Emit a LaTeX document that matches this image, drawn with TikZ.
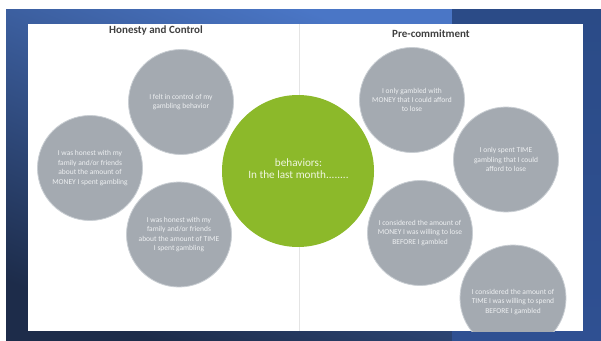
\documentclass[tikz,border=0pt]{standalone}
\usepackage{fontspec}
\setmainfont{Carlito}
\definecolor{bgtop}{HTML}{4A76C6}
\definecolor{bgbottom}{HTML}{1D2C4A}
\definecolor{paneltop}{HTML}{2B4B87}
\definecolor{panelmid}{HTML}{3A61AA}
\definecolor{panelbottom}{HTML}{2F5092}
\definecolor{bubblegray}{HTML}{A4AAB1}
\definecolor{bubbleedge}{HTML}{C9CED3}
\definecolor{bubbletext}{HTML}{EEF0F2}
\definecolor{hubgreen}{HTML}{8CB92A}
\definecolor{hubtext}{HTML}{EFF6DF}
\definecolor{titlegray}{HTML}{404040}
\definecolor{divider}{HTML}{E4E4E4}
\begin{document}
\begin{tikzpicture}[x=1pt,y=-1pt,
  bubble/.style={circle, fill=bubblegray, draw=bubbleedge, line width=0.8pt,
    minimum size=105pt, inner sep=0pt, text=bubbletext, align=center,
    font=\fontsize{7.5}{9.4}\selectfont},
  hub/.style={circle, fill=hubgreen, draw=none, minimum size=152pt,
    inner sep=0pt, text=hubtext, align=center,
    font=\fontsize{11.2}{12.4}\selectfont},
  heading/.style={text=titlegray, font=\fontsize{11}{13}\selectfont\bfseries,
    inner sep=0pt}]
\useasboundingbox (0,0) rectangle (601,340);
\fill[white] (0,0) rectangle (601,340);

% blue frame behind the slide
\shade[top color=bgtop, bottom color=bgbottom, shading angle=-22]
  (6,9) rectangle (452,340);
\shade[top color=paneltop, middle color=panelmid, bottom color=panelbottom]
  (452,9) rectangle (601,340);

% slide
\fill[white] (28,24) rectangle (583,331);
\draw[divider, line width=0.6pt] (299.5,24) -- (299.5,331);

% section headings
\node[heading] (hc) at (156,31) {Honesty and Control};
\node[heading] (pc) at (431,33.5) {Pre-commitment};

\begin{scope}
  \clip (28,24) rectangle (583,331);
  % honesty and control
  \node[bubble] (control) at (181,102) {I felt in control of my\\gambling behavior};
  \node[bubble] (money) at (90,168) {I was honest with my\\family and/or friends\\about the amount of\\MONEY I spent gambling};
  \node[bubble] (time) at (179,234.5) {I was honest with my\\family and/or friends\\about the amount of TIME\\I spent gambling};
  % pre-commitment
  \node[bubble] (affordmoney) at (412,100) {I only gambled with\\MONEY that I could afford\\to lose};
  \node[bubble] (affordtime) at (506,159.5) {I only spent TIME\\gambling that I could\\afford to lose};
  \node[bubble] (limitmoney) at (420,233) {I considered the amount of\\MONEY I was willing to lose\\BEFORE I gambled};
  \node[bubble, minimum size=106pt] (limittime) at (513,298) {};
  \node[text=bubbletext, align=center, font=\fontsize{7.5}{9.4}\selectfont]
    (limittimetext) at (513,302) {I considered the amount of\\TIME I was willing to spend\\BEFORE I gambled};
  % centre
  \node[hub] (hub) at (298,171) {};
  \node[text=hubtext, align=center, font=\fontsize{11.2}{12.4}\selectfont]
    (hubtext) at (298.5,168.5) {behaviors:\\In the last month........};
\end{scope}
\end{tikzpicture}
\end{document}
